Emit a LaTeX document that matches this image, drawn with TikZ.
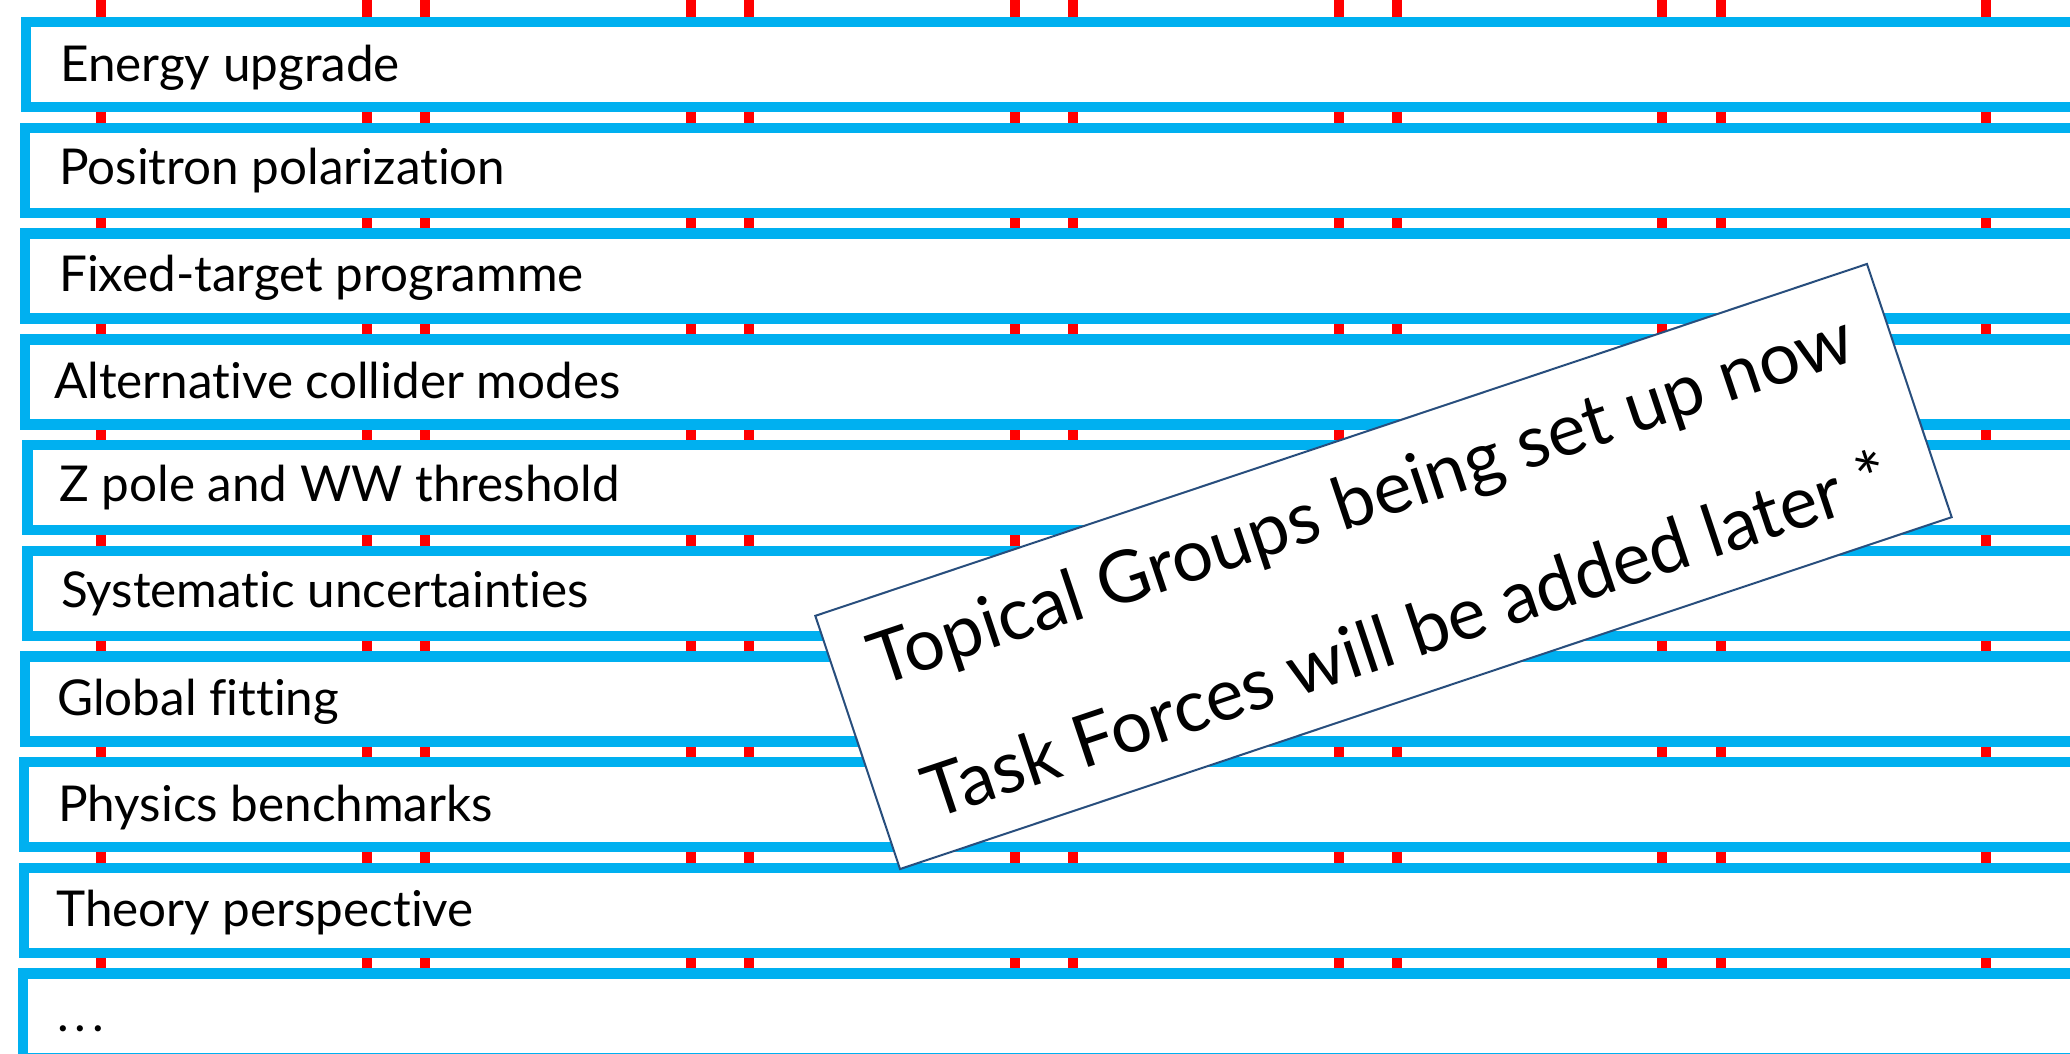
\documentclass[tikz,border=0pt]{standalone}
\usepackage{fontspec}
\setmainfont{Lato}[Ligatures={NoCommon,NoDiscretionary,NoRare}]
\usetikzlibrary{calc}
\definecolor{tgblue}{RGB}{0,176,240}
\definecolor{tgred}{RGB}{255,0,0}
\definecolor{tgnavy}{RGB}{40,78,125}
\newlength\smallw
\newlength\bigw
\AtBeginDocument{%
\settowidth\smallw{\fontsize{20pt}{24pt}\selectfont Energy upgradePositron polarizationFixed-target programmeAlternative collider modesZ pole and WW thresholdSystematic uncertaintiesGlobal fittingPhysics benchmarksTheory perspective}%
\pgfmathsetmacro\smallsz{20*(4090/\smallw)}%
\settowidth\bigw{\fontsize{20pt}{24pt}\selectfont Topical Groups being set up now}%
\pgfmathsetmacro\bigsz{20*(1032/\bigw)}%
}
\begin{document}
\begin{tikzpicture}[x=1pt,y=-1pt,
  redbar/.style={draw=tgred, line width=10.5pt},
  rowbox/.style={rectangle, draw=tgblue, line width=10.5pt, fill=white,
    minimum width=2120pt, minimum height=85pt, anchor=north west, inner sep=0pt},
  rowlabel/.style={anchor=base west, inner sep=0pt, text=black,
    font={\fontsize{\smallsz pt}{\smallsz pt}\selectfont}},
  tgbox/.style={rectangle, draw=tgnavy, line width=2pt, fill=white,
    minimum width=1109pt, minimum height=267pt, inner sep=0pt, rotate=18.5},
  tgline/.style={anchor=base, inner sep=0pt, rotate=18.5, text=black,
    font={\fontsize{\bigsz pt}{\bigsz pt}\selectfont}}]
\useasboundingbox (0,0) rectangle (2070,1054);
\clip (0,0) rectangle (2070,1054);
\fill[white] (0,0) rectangle (2070,1054);
% red vertical bars behind
\foreach \x in {101,367,425,691,749,1015,1073,1339,1397,1662,1721,1986}
  \draw[redbar] (\x,-10) -- (\x,1070);
% rows
\node[rowbox] (r1)  at (20.9,17.0)  {};
\node[rowbox] (r2)  at (19.5,122.7) {};
\node[rowbox] (r3)  at (19.9,228.4) {};
\node[rowbox] (r4)  at (19.9,334.1) {};
\node[rowbox] (r5)  at (22.0,439.8) {};
\node[rowbox] (r6)  at (22.0,545.5) {};
\node[rowbox] (r7)  at (19.9,651.2) {};
\node[rowbox] (r8)  at (18.7,756.9) {};
\node[rowbox] (r9)  at (18.5,862.6) {};
\node[rowbox] (r10) at (17.9,968.3) {};
\node[rowlabel] (t1)  at (60,82)    {Energy upgrade};
\node[rowlabel] (t2)  at (59,185)   {Positron polarization};
\node[rowlabel] (t3)  at (59,291.7) {Fixed-target programme};
\node[rowlabel] (t4)  at (54,398.3) {Alternative collider modes};
\node[rowlabel] (t5)  at (59,501.7) {Z pole and WW threshold};
\node[rowlabel] (t6)  at (61,607.3) {Systematic uncertainties};
\node[rowlabel] (t7)  at (57,715)   {Global fitting};
\node[rowlabel] (t8)  at (58,821.7) {Physics benchmarks};
\node[rowlabel] (t9)  at (56,926.7) {Theory perspective};
\node[rowlabel] (t10) at (57,1031)  {.\hspace{6pt}.\hspace{6pt}.};
% rotated note
\node[tgbox] (tg) at (1383.5,566.5) {};
\node[tgline] (tg1) at ($(tg.center)+(-14.6,-43.6)$) {Topical Groups being set up now};
\node[tgline] (tg2) at ($(tg.center)+(30.8,92.0)$) {Task Forces will be added later *};
\end{tikzpicture}
\end{document}
